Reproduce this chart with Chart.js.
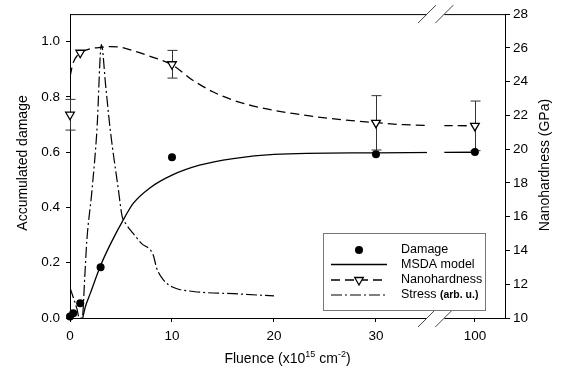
<!DOCTYPE html>
<html>
<head>
<meta charset="utf-8">
<script src="https://cdn.jsdelivr.net/npm/chart.js@4.4.0/dist/chart.umd.min.js"></script>
<style>
  html, body { margin: 0; padding: 0; background: #fff; }
  #wrap { width: 569px; height: 374px; }
</style>
</head>
<body>
<div id="wrap"><canvas id="chart"></canvas></div>
<script>
// fluence in 1e15 cm^-2
const damageFluence = [0, 0.32, 1, 3, 10, 30, 100];
const damageValues = [0.005, 0.017, 0.053, 0.184, 0.582, 0.593, 0.601];

const msdaFluence = [1.25, 1.5, 2, 3, 4, 5.4, 6.2, 7.8, 10, 12.7, 16, 20, 30, 100];
const msdaValues = [0, 0.04, 0.09, 0.19, 0.27, 0.367, 0.415, 0.47, 0.517, 0.553, 0.577, 0.592, 0.598, 0.6];

const hardFluence = [0, 1, 10, 30, 100];
const hardValues = [22.04, 25.71, 25.03, 21.56, 21.38];
const hardErrors = [0.91, 0, 0.82, 1.61, 1.47];

const hardFitFluence = [0, 0.3, 0.8, 1.5, 2, 3, 4, 5, 6, 8, 10, 12, 14, 16, 18, 20, 22, 25, 30, 50, 100];
const hardFitValues = [24.3, 25.1, 25.6, 25.85, 25.95, 26.03, 26.07, 26.03, 25.87, 25.47, 25.0, 24.1, 23.4, 22.9, 22.55, 22.3, 22.1, 21.85, 21.57, 21.45, 21.38];

const stressFluence = [0, 0.7, 0.9, 1.2, 1.45, 1.65, 2.15, 2.64, 3.08, 3.5, 3.95, 4.76, 5.1, 5.5, 6.2, 7, 8.15, 8.5, 9.15, 10.1, 12.1, 16, 20];
const stressValues = [0.11, 0.03, 0.0, 0.0, 0.15, 0.28, 0.46, 0.68, 0.99, 0.84, 0.68, 0.46, 0.37, 0.34, 0.306, 0.27, 0.229, 0.18, 0.138, 0.111, 0.096, 0.088, 0.08];

const fluenceTicks = [0, 10, 20, 30, 100];
const damageTicks = [0, 0.2, 0.4, 0.6, 0.8, 1.0];
const hardTicks = [10, 12, 14, 16, 18, 20, 22, 24, 26, 28];

// broken axis: 30..100 squeezed into 9.7 units
const fx = f => f <= 30 ? f : 30 + (f - 30) * 9.7 / 70;
const pts = (xs, ys) => xs.map((f, i) => ({ x: fx(f), y: ys[i] }));
const gapFrom = 35.0, gapTo = 36.7;

const FONT = '"Liberation Sans", Arial, Helvetica, sans-serif';
Chart.defaults.font.family = FONT;
Chart.defaults.color = '#000';

function legendLine(ctx, x0, x1, y, dash) {
  ctx.setLineDash(dash);
  ctx.beginPath();
  ctx.moveTo(x0, y);
  ctx.lineTo(x1, y);
  ctx.stroke();
  ctx.setLineDash([]);
}

const decor = {
  id: 'decor',
  beforeDatasetsDraw(chart) {
    const { ctx, chartArea: a, scales } = chart;
    ctx.save();
    ctx.strokeStyle = '#000';
    ctx.lineWidth = 1;
    ctx.beginPath();
    ctx.moveTo(a.left, a.top + 0.5);
    ctx.lineTo(a.right, a.top + 0.5);
    ctx.stroke();
    // error bars
    ctx.strokeStyle = '#333';
    hardFluence.forEach((f, i) => {
      const e = hardErrors[i];
      if (!e) return;
      const x = Math.round(scales.x.getPixelForValue(fx(f))) + 0.5;
      const yt = scales.y2.getPixelForValue(hardValues[i] + e);
      const yb = scales.y2.getPixelForValue(hardValues[i] - e);
      ctx.beginPath();
      ctx.moveTo(x, yt); ctx.lineTo(x, yb);
      ctx.moveTo(x - 5, yt); ctx.lineTo(x + 5, yt);
      ctx.moveTo(x - 5, yb); ctx.lineTo(x + 5, yb);
      ctx.stroke();
    });
    ctx.restore();
  },
  afterDatasetsDraw(chart) {
    const { ctx, chartArea: a, scales } = chart;
    const x0 = scales.x.getPixelForValue(gapFrom);
    const x1 = scales.x.getPixelForValue(gapTo);
    ctx.save();
    ctx.fillStyle = '#fff';
    ctx.fillRect(x0, a.top - 2, x1 - x0, a.bottom - a.top + 4);
    ctx.strokeStyle = '#444';
    ctx.lineWidth = 1;
    [a.top, a.bottom].forEach(y => [x0, x1].forEach(x => {
      ctx.beginPath();
      ctx.moveTo(x - 9, y + 9);
      ctx.lineTo(x + 9, y - 9);
      ctx.stroke();
    }));
    ctx.restore();
  },
  afterDraw(chart) {
    const { ctx, chartArea: a } = chart;
    ctx.save();
    // legend box
    const bx = a.right - 182, by = a.bottom - 85, bw = 162, bh = 77;
    ctx.fillStyle = '#fff';
    ctx.fillRect(bx, by, bw, bh);
    ctx.strokeStyle = '#777';
    ctx.lineWidth = 1;
    ctx.strokeRect(bx + 0.5, by + 0.5, bw, bh);

    const lx0 = bx + 8, lx1 = bx + 64, cx = bx + 36, tx = bx + 78;
    const rows = [by + 17, by + 31.5, by + 47, by + 62];
    ctx.strokeStyle = '#000';
    ctx.fillStyle = '#000';
    ctx.beginPath();
    ctx.arc(cx, rows[0], 4, 0, Math.PI * 2);
    ctx.fill();
    ctx.lineWidth = 1.3;
    legendLine(ctx, lx0, lx1, rows[1], []);
    legendLine(ctx, lx0, lx1, rows[2], [9, 5]);
    ctx.beginPath();
    ctx.moveTo(cx - 4.3, rows[2] - 2.5);
    ctx.lineTo(cx + 4.3, rows[2] - 2.5);
    ctx.lineTo(cx, rows[2] + 5);
    ctx.closePath();
    ctx.fillStyle = '#fff';
    ctx.fill();
    ctx.stroke();
    ctx.lineWidth = 1.2;
    legendLine(ctx, lx0, lx1, rows[3], [11, 3, 2, 3]);

    ctx.fillStyle = '#000';
    ctx.textBaseline = 'middle';
    ctx.textAlign = 'left';
    ctx.font = '12.5px ' + FONT;
    ['Damage', 'MSDA model', 'Nanohardness'].forEach((t, i) => ctx.fillText(t, tx, rows[i]));
    ctx.fillText('Stress ', tx, rows[3]);
    const sw = ctx.measureText('Stress ').width;
    ctx.font = 'bold 10.5px ' + FONT;
    ctx.fillText('(arb. u.)', tx + sw, rows[3] + 0.5);

    // axis titles
    ctx.font = '14px ' + FONT;
    ctx.textAlign = 'center';
    ctx.save();
    ctx.translate(23.4, 163);
    ctx.rotate(-Math.PI / 2);
    ctx.fillText('Accumulated damage', 0, 0);
    ctx.restore();
    ctx.save();
    ctx.translate(545.5, 165);
    ctx.rotate(-Math.PI / 2);
    ctx.fillText('Nanohardness (GPa)', 0, 0);
    ctx.restore();

    const parts = [['Fluence (x10', 14, 0], ['15', 9, -6], [' cm', 14, 0], ['-2', 9, -6], [')', 14, 0]];
    let total = 0;
    parts.forEach(p => { ctx.font = p[1] + 'px ' + FONT; total += ctx.measureText(p[0]).width; });
    let x = (a.left + a.right) / 2 - total / 2;
    ctx.textAlign = 'left';
    ctx.textBaseline = 'alphabetic';
    parts.forEach(p => {
      ctx.font = p[1] + 'px ' + FONT;
      ctx.fillText(p[0], x, 363 + p[2]);
      x += ctx.measureText(p[0]).width;
    });
    ctx.restore();
  }
};

new Chart(document.getElementById('chart'), {
  type: 'scatter',
  data: {
    datasets: [
      {
        label: 'Damage', data: pts(damageFluence, damageValues), yAxisID: 'y',
        showLine: false, pointRadius: 4, pointBackgroundColor: '#000',
        pointBorderColor: '#000', pointBorderWidth: 0, clip: false
      },
      {
        label: 'Nanohardness', data: pts(hardFluence, hardValues), yAxisID: 'y2',
        showLine: false, pointStyle: 'triangle', pointRotation: 180, pointRadius: 5,
        pointBackgroundColor: '#fff', pointBorderColor: '#000', pointBorderWidth: 1.3, clip: false
      },
      {
        label: 'MSDA model', data: pts(msdaFluence, msdaValues), yAxisID: 'y',
        showLine: true, pointRadius: 0, borderColor: '#000', borderWidth: 1.3,
        cubicInterpolationMode: 'monotone'
      },
      {
        label: 'Nanohardness fit', data: pts(hardFitFluence, hardFitValues), yAxisID: 'y2',
        showLine: true, pointRadius: 0, borderColor: '#000', borderWidth: 1.3,
        borderDash: [9, 5], cubicInterpolationMode: 'monotone'
      },
      {
        label: 'Stress (arb. u.)', data: pts(stressFluence, stressValues), yAxisID: 'y',
        showLine: true, pointRadius: 0, borderColor: '#000', borderWidth: 1.2,
        borderDash: [11, 3, 2, 3], cubicInterpolationMode: 'monotone'
      }
    ]
  },
  options: {
    responsive: true,
    maintainAspectRatio: false,
    animation: false,
    layout: { padding: { top: 14, left: 0, right: 0, bottom: 0 } },
    plugins: { legend: { display: false }, tooltip: { enabled: false } },
    scales: {
      x: {
        type: 'linear', position: 'bottom', min: 0, max: 42.65,
        afterBuildTicks: s => { s.ticks = fluenceTicks.map(f => ({ value: fx(f) })); },
        afterFit: s => { s.height = 56; },
        ticks: {
          callback: (v, i) => String(fluenceTicks[i]), font: { size: 13.5 },
          color: '#000', padding: 6, maxRotation: 0, autoSkip: false
        },
        grid: { drawOnChartArea: false, tickLength: 4, color: '#000' },
        border: { color: '#000', width: 1 }
      },
      y: {
        position: 'left', min: 0, max: 1.1,
        afterBuildTicks: s => { s.ticks = damageTicks.map(v => ({ value: v })); },
        afterFit: s => { s.width = 70; },
        ticks: { callback: v => v.toFixed(1), font: { size: 13.5 }, color: '#000', padding: 6 },
        grid: { drawOnChartArea: false, tickLength: 4, color: '#000' },
        border: { color: '#000', width: 1 }
      },
      y2: {
        position: 'right', min: 10, max: 28,
        afterBuildTicks: s => { s.ticks = hardTicks.map(v => ({ value: v })); },
        afterFit: s => { s.width = 64; },
        ticks: { callback: v => String(v), font: { size: 13.5 }, color: '#000', padding: 3 },
        grid: { drawOnChartArea: false, tickLength: 5, color: '#000' },
        border: { color: '#000', width: 1 }
      }
    }
  },
  plugins: [decor]
});
</script>
</body>
</html>
